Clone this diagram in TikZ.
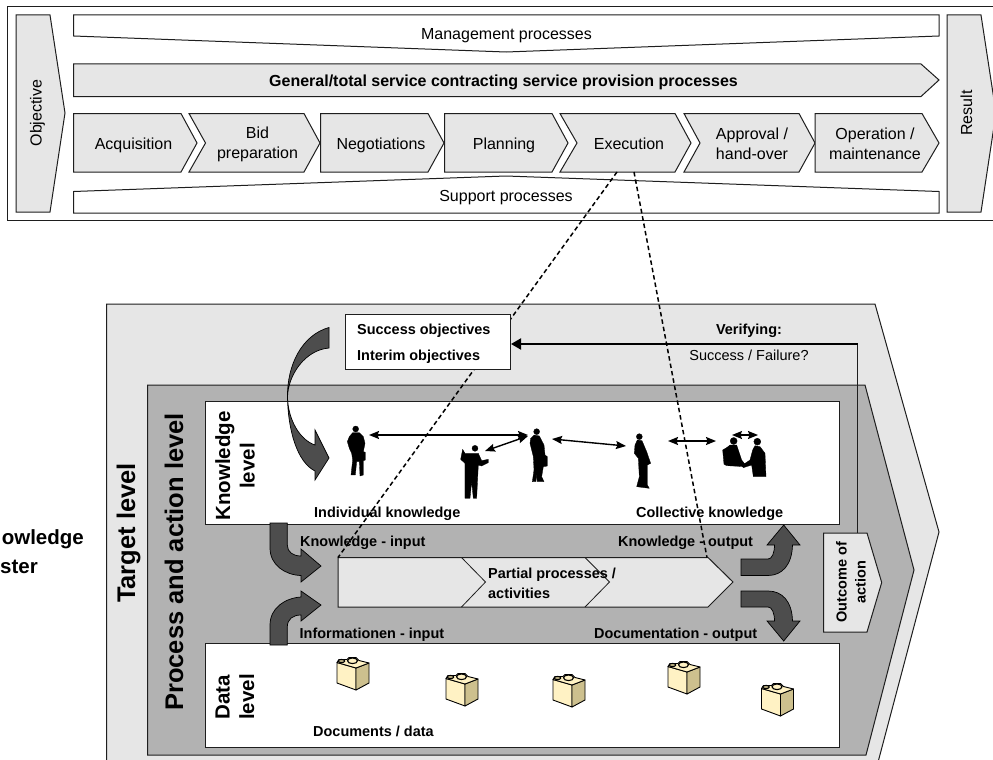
\documentclass[tikz,border=0pt]{standalone}
\usepackage{fontspec}
\setmainfont{Liberation Sans}
\usetikzlibrary{arrows.meta}
\definecolor{lgray}{HTML}{E6E6E6}
\definecolor{mgray}{HTML}{B2B2B2}
\definecolor{dgray}{HTML}{4D4D4D}
\definecolor{edge}{HTML}{1E1E1E}
\definecolor{bagfront}{HTML}{FFF2C4}
\definecolor{bagside}{HTML}{CDC08E}
\tikzset{
  shp/.style={draw=edge,line width=1pt,line join=miter},
  lg/.style={shp,fill=lgray},
  wh/.style={shp,fill=white},
  bigarrow/.style={draw=black,line width=0.7pt,fill=dgray},
  lab/.style={font=\fontsize{16}{20}\selectfont,align=center,inner sep=0pt,text height=11.4pt,text depth=0pt},
  blab/.style={font=\fontsize{14.45}{20}\selectfont\bfseries,inner sep=0pt,anchor=west,text height=10.4pt,text depth=0pt},
  multi/.style={text height=,text depth=},
  dashln/.style={black,line width=1.5pt,dash pattern=on 4.5pt off 3pt},
  duo/.style={black,line width=1.4pt,{Stealth[length=10pt,width=8pt,inset=1.5pt]}-{Stealth[length=10pt,width=8pt,inset=1.5pt]}},
  person/.style={fill=black,draw=black,line width=0.3pt,line join=round},
}
\newcommand{\tipbag}[2]{%
\begin{scope}[shift={(#1,#2)}]
 \draw[black,line width=0.9pt,fill=bagfront,line join=round] (0,4.5) -- (19,10) -- (19,32) -- (0,25) -- cycle;
 \draw[black,line width=0.9pt,fill=bagside,line join=round] (19,10) -- (32,5) -- (32,25) -- (19,32) -- cycle;
 \draw[black,line width=0.9pt,fill=bagfront,line join=round] (0,4.5) -- (2,1.5) -- (10,1.5) -- (12,-0.5) -- (19,-0.5) -- (22,2.5) -- (32,5) -- (19,10) -- cycle;
 \draw[black,line width=1.1pt,fill=bagside] (4.5,3) ellipse (3.2pt and 1.6pt);
 \draw[black,line width=1.1pt,fill=bagfront] (15.5,2.8) ellipse (5pt and 2.8pt);
\end{scope}}
\begin{document}
\begin{tikzpicture}[x=1pt,y=-1pt]
\useasboundingbox (0,0) rectangle (993,760);
\fill[white] (0,0) rectangle (993,760);
% ---------- top frame
\draw[shp,fill=white] (7.5,7) -- (1000,7) -- (1000,220) -- (7.5,220) -- cycle;
\draw[lg] (16,15) -- (50,15) -- (65,113) -- (50,212) -- (16,212) -- cycle;
\draw[lg] (947,15) -- (981,15) -- (996,113) -- (981,212) -- (947,212) -- cycle;
\draw[wh] (73.5,15) -- (939,15) -- (939,36) -- (506,52) -- (73.5,36) -- cycle;
\draw[wh] (73.5,213) -- (939,213) -- (939,191.5) -- (506,176) -- (73.5,191.5) -- cycle;
\draw[lg] (73.5,64) -- (921,64) -- (939,80) -- (921,96.5) -- (73.5,96.5) -- cycle;
% process steps
\draw[lg] (73.5,113.5) -- (181,113.5) -- (197,143) -- (181,172) -- (73.5,172) -- cycle;
\draw[lg] (189,113.5) -- (304,113.5) -- (320,143) -- (304,172) -- (189,172) -- (205.5,143) -- cycle;
\draw[lg] (320.5,113.5) -- (428,113.5) -- (444,143) -- (428,172) -- (320.5,172) -- cycle;
\draw[lg] (444.5,113.5) -- (552,113.5) -- (568,143) -- (552,172) -- (444.5,172) -- cycle;
\draw[lg] (560,113.5) -- (675,113.5) -- (691,143) -- (675,172) -- (560,172) -- (577,143) -- cycle;
\draw[lg] (684,113.5) -- (799,113.5) -- (815,143) -- (799,172) -- (684,172) -- (700,143) -- cycle;
\draw[lg] (815,113.5) -- (922,113.5) -- (939,143) -- (922,172) -- (815,172) -- cycle;
\node[lab,rotate=90] (objective) at (36,113) {Objective};
\node[lab,rotate=90] (result) at (966.5,113) {Result};
\node[lab] (mgmt) at (506.5,33.5) {Management processes};
\node[lab,font=\fontsize{16}{20}\selectfont\bfseries] (general) at (503.5,81) {General/total service contracting service provision processes};
\node[lab] (support) at (506,195.5) {Support processes};
\node[lab] (acq) at (133.5,143.5) {Acquisition};
\node[lab,multi] (bid) at (257.5,144) {Bid\\preparation};
\node[lab] (neg) at (381,143.5) {Negotiations};
\node[lab] (plan) at (504,143.5) {Planning};
\node[lab] (exec) at (629,143.5) {Execution};
\node[lab,multi] (appr) at (752,144) {Approval /\\hand-over};
\node[lab,multi] (oper) at (875,144) {Operation /\\maintenance};
% ---------- lower part
\draw[lg] (106.5,304) -- (875,304) -- (939,532) -- (877,766) -- (106.5,766) -- cycle;
\draw[shp,fill=mgray] (147.5,385) -- (865,385) -- (914,570) -- (866,755) -- (147.5,755) -- cycle;
\draw[wh] (205.5,401.5) rectangle (839,524);
\draw[wh] (205.5,643) rectangle (839,747);
% partial processes
\draw[lg] (338,557.5) -- (708,557.5) -- (733,582) -- (708,607) -- (338,607) -- cycle;
\draw[edge,line width=0.8pt] (461.5,557.5) -- (485.5,582) -- (461.5,607);
\draw[edge,line width=0.8pt] (585,557.5) -- (609.5,582) -- (585,607);
% connector anchors
\coordinate (execL) at (617,172);
\coordinate (execR) at (634,172);
\coordinate (partL) at (338,557.5);
\coordinate (partR) at (707,557.5);
\coordinate (outcomeTop) at (857.5,533);
\coordinate (bend) at (857.5,344);
% dashed zoom lines
\draw[dashln] (execL) -- (partL);
\draw[dashln] (execR) -- (partR);
% objectives box
\node[draw=edge,line width=1pt,fill=white,minimum width=165pt,minimum height=55.5pt,inner sep=0pt] (goals) at (428,341.8) {};
\coordinate (goalsIn) at (goals.east |- bend);
\draw[edge,line width=1pt] (outcomeTop) -- (bend);
\draw[black,line width=2pt,-{Stealth[length=10pt,width=11pt,inset=0pt]}] (bend) -- (goalsIn);
% outcome
\draw[lg] (823.5,533) -- (867,533) -- (881.7,582.5) -- (867,632) -- (823.5,632) -- cycle;
% dark curved arrows
\draw[bigarrow] (329,327.5) .. controls (302,335) and (287,365) .. (287.5,397) .. controls (288,430) and (297,462) .. (315,471) -- (315,480) -- (329,458) -- (315,430) -- (315,445) .. controls (300,440) and (288,420) .. (287.5,397) .. controls (288,375) and (305,350) .. (329,348) -- cycle;
\draw[bigarrow] (270,523) -- (270,548) .. controls (270,565) and (285,575) .. (301,575.5) -- (301,582) -- (321,566) -- (301,549) -- (301,556) .. controls (293,556) and (287.3,552) .. (287.3,545) -- (287.3,523) -- cycle;
\draw[bigarrow] (270,645) -- (270,625) .. controls (270,608) and (285,598) .. (301,597) -- (301,591) -- (321,605) -- (301,621) -- (301,615) .. controls (293,615) and (287.3,619) .. (287.3,627) -- (287.3,645) -- cycle;
\draw[bigarrow] (741,575.5) -- (741,559) -- (768,559) .. controls (772,559) and (774.5,553) .. (774.5,545) -- (767,545) -- (783.7,525) -- (800,545) -- (792.5,545) .. controls (792,565) and (782,575.5) .. (768,575.5) -- cycle;
\draw[bigarrow] (741,591) -- (741,607) -- (768,607) .. controls (772,607) and (774.5,613) .. (774.5,621) -- (767,621) -- (783.7,641) -- (800,621) -- (792.5,621) .. controls (792,601) and (782,591) .. (768,591) -- cycle;
% people
\begin{scope}[shift={(340,420)},x=0.3333pt,y=-0.3333pt]
 \fill[person] (47,27) circle (3pt);
 \fill[person] (38,38) -- (58,38) -- (70,50) -- (75,70) -- (70,95) -- (76,97) -- (76,120) -- (70,122) -- (70,165) -- (60,168) -- (58,125) -- (50,125) -- (46,165) -- (33,165) -- (38,120) -- (35,100) -- (28,85) -- (22,65) -- (28,50) -- cycle;
 \fill[person] (405,85) circle (3pt);
 \fill[person] (395,100) -- (415,100) -- (425,122) -- (445,118) -- (445,128) -- (425,138) -- (415,135) -- (410,235) -- (400,235) -- (395,185) -- (390,235) -- (375,235) -- (375,130) -- (362,118) -- (368,88) -- (375,100) -- cycle;
\end{scope}
\begin{scope}[shift={(520,420)},x=0.3333pt,y=-0.3333pt]
 \fill[person] (50,35) circle (3pt);
 \fill[person] (42,45) -- (58,48) -- (72,75) -- (75,105) -- (82,110) -- (82,138) -- (70,140) -- (65,170) -- (72,185) -- (52,185) -- (50,160) -- (48,185) -- (37,185) -- (42,150) -- (40,110) -- (30,70) -- (32,55) -- cycle;
 \fill[person] (358,50) circle (3pt);
 \fill[person] (352,60) -- (366,62) -- (380,95) -- (392,130) -- (382,135) -- (382,195) -- (388,205) -- (350,200) -- (358,170) -- (355,115) -- (343,100) -- (345,75) -- cycle;
\end{scope}
\begin{scope}[shift={(700,425)},x=0.3333pt,y=-0.3333pt]
 \fill[person] (101,48) circle (3.5pt);
 \fill[person] (90,60) -- (110,60) -- (125,105) -- (135,118) -- (135,125) -- (80,122) -- (72,118) -- (68,75) -- (80,68) -- cycle;
 \fill[person] (172,50) circle (3.5pt);
 \fill[person] (165,62) -- (180,65) -- (195,85) -- (198,155) -- (160,155) -- (155,120) -- (130,128) -- (125,122) -- (150,105) -- (158,75) -- cycle;
\end{scope}
% people connectors
\coordinate (p1) at (369,435);
\coordinate (p3a) at (528,435);
\coordinate (p2) at (485,451);
\coordinate (p3b) at (528,436);
\coordinate (p3c) at (552,439);
\coordinate (p4a) at (626,446);
\coordinate (p4b) at (668,441);
\coordinate (p5a) at (716,441);
\coordinate (p5b) at (732,435);
\coordinate (p5c) at (758,435);
\draw[duo] (p1) -- (p3a);
\draw[duo] (p2) -- (p3b);
\draw[duo] (p3c) -- (p4a);
\draw[duo] (p4b) -- (p5a);
\draw[duo,line width=1.2pt] (p5b) -- (p5c);
% bags
\tipbag{337}{658}
\tipbag{446}{674}
\tipbag{553}{675}
\tipbag{668}{662}
\tipbag{761.5}{684}
% text
\node[blab] (so) at (357,329.3) {Success objectives};
\node[blab] (io) at (357,355) {Interim objectives};
\node[blab,anchor=center] (ver) at (749,329.3) {Verifying:};
\node[lab,font=\fontsize{14.5}{18}\selectfont,text height=10.4pt] (sf) at (749,355) {Success / Failure?};
\node[blab] (ik) at (314,512) {Individual knowledge};
\node[blab] (ck) at (636,512) {Collective knowledge};
\node[blab] (ki) at (300,541) {Knowledge - input};
\node[blab] (ko) at (618,541) {Knowledge - output};
\node[blab] (inf) at (299.5,633) {Informationen - input};
\node[blab] (doc) at (594,633) {Documentation - output};
\node[blab] (dd) at (313,731) {Documents / data};
\node[blab,multi,align=left] (pp) at (488,583) {Partial processes /\\activities};
\node[lab,multi,font=\fontsize{14.5}{19}\selectfont\bfseries,rotate=90] (oa) at (851,582) {Outcome of\\action};
\node[lab,multi,font=\fontsize{20.5}{24.5}\selectfont\bfseries,rotate=90] (kl) at (235,466) {Knowledge\\level};
\node[lab,multi,font=\fontsize{20.5}{24.5}\selectfont\bfseries,rotate=90] (dl) at (235,697) {Data\\level};
\node[lab,font=\fontsize{25.5}{28}\selectfont\bfseries,rotate=90,text height=18.3pt] (tl) at (126,533) {Target level};
\node[lab,font=\fontsize{25.5}{28}\selectfont\bfseries,rotate=90,text height=18.3pt] (pl) at (174,562) {Process and action level};
\node[lab,font=\fontsize{20.5}{24}\selectfont\bfseries,anchor=east,text height=14.7pt] (kw) at (84,537) {owledge};
\node[lab,font=\fontsize{20.5}{24}\selectfont\bfseries,anchor=east,text height=14.7pt] (st) at (38,566) {ster};
\end{tikzpicture}
\end{document}
